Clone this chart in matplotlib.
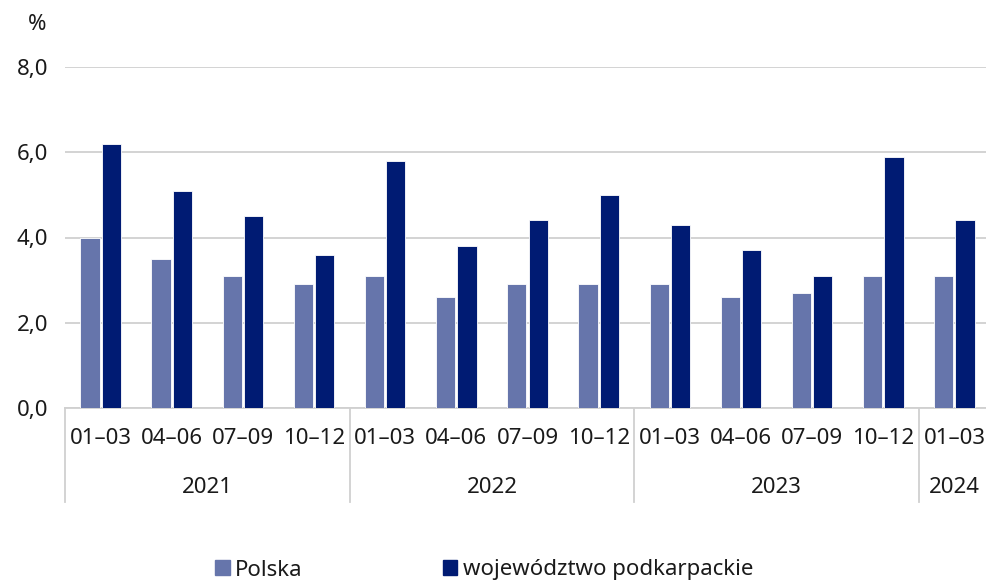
import matplotlib.pyplot as plt
import numpy as np
from matplotlib.lines import Line2D
from matplotlib.patches import Patch

plt.rcParams['font.family'] = ['Noto Sans', 'DejaVu Sans']

quarters = ['01–03', '04–06', '07–09', '10–12',
            '01–03', '04–06', '07–09', '10–12',
            '01–03', '04–06', '07–09', '10–12',
            '01–03']
years = ['2021', '2022', '2023', '2024']
year_sizes = [4, 4, 4, 1]
polska = [4.0, 3.5, 3.1, 2.9, 3.1, 2.6, 2.9, 2.9, 2.9, 2.6, 2.7, 3.1, 3.1]
podkarpackie = [6.2, 5.1, 4.5, 3.6, 5.8, 3.8, 4.4, 5.0, 4.3, 3.7, 3.1, 5.9, 4.4]

c_pl = '#6675ab'
c_pk = '#001b73'
txt = '#1a1a1a'
grid_c = '#d0d0d0'

fig = plt.figure(figsize=(9.87, 5.81), dpi=100)
ax = fig.add_axes([65/987, 1 - 408/581, 925/987, (408-67)/581])
ax.set_ylim(0, 8)

x = np.arange(len(quarters))
w = 0.27
ax.bar(x - w/2 - 0.015, polska, w, color=c_pl, edgecolor='white', linewidth=0.6, zorder=3)
ax.bar(x + w/2 + 0.015, podkarpackie, w, color=c_pk, edgecolor='white', linewidth=0.6, zorder=3)
ax.set_xlim(-0.5, len(quarters) - 0.5)

ax.set_yticks([0, 2, 4, 6, 8])
ax.set_yticklabels(['0,0', '2,0', '4,0', '6,0', '8,0'], fontsize=16, color=txt)
ax.tick_params(axis='y', length=0, pad=12)
ax.grid(axis='y', color=grid_c, linewidth=1.3, zorder=0)
for s in ['top', 'right', 'left']:
    ax.spines[s].set_visible(False)
ax.spines['bottom'].set_color(grid_c)
ax.spines['bottom'].set_linewidth(1.3)
ax.set_xticks([])

fig.text(37/987, 1 - 25/581, '%', fontsize=16, color=txt, ha='center', va='center')

# category labels
for i, q in enumerate(quarters):
    ax.text(i, -0.72, q, ha='center', va='center', fontsize=16, color=txt, clip_on=False)

# year labels and separators
bounds = np.concatenate([[0], np.cumsum(year_sizes)]) - 0.5
for j, y in enumerate(years):
    mid = (bounds[j] + bounds[j+1]) / 2
    ax.text(mid, -1.87, y, ha='center', va='center', fontsize=16, color=txt, clip_on=False)
for b in bounds:
    ax.add_line(Line2D([b, b], [0, -2.2], color=grid_c, linewidth=1.3, clip_on=False))

handles = [Patch(color=c_pl), Patch(color=c_pk)]
fig.legend(handles, ['Polska', 'województwo podkarpackie'], loc='center',
           bbox_to_anchor=(484/987, 1 - 570/581), ncol=2, frameon=False, fontsize=16,
           handlelength=0.65, handleheight=0.65, handletextpad=0.25, columnspacing=6.3,
           labelcolor=txt, borderpad=0)

fig.savefig('out.png', dpi=100)
